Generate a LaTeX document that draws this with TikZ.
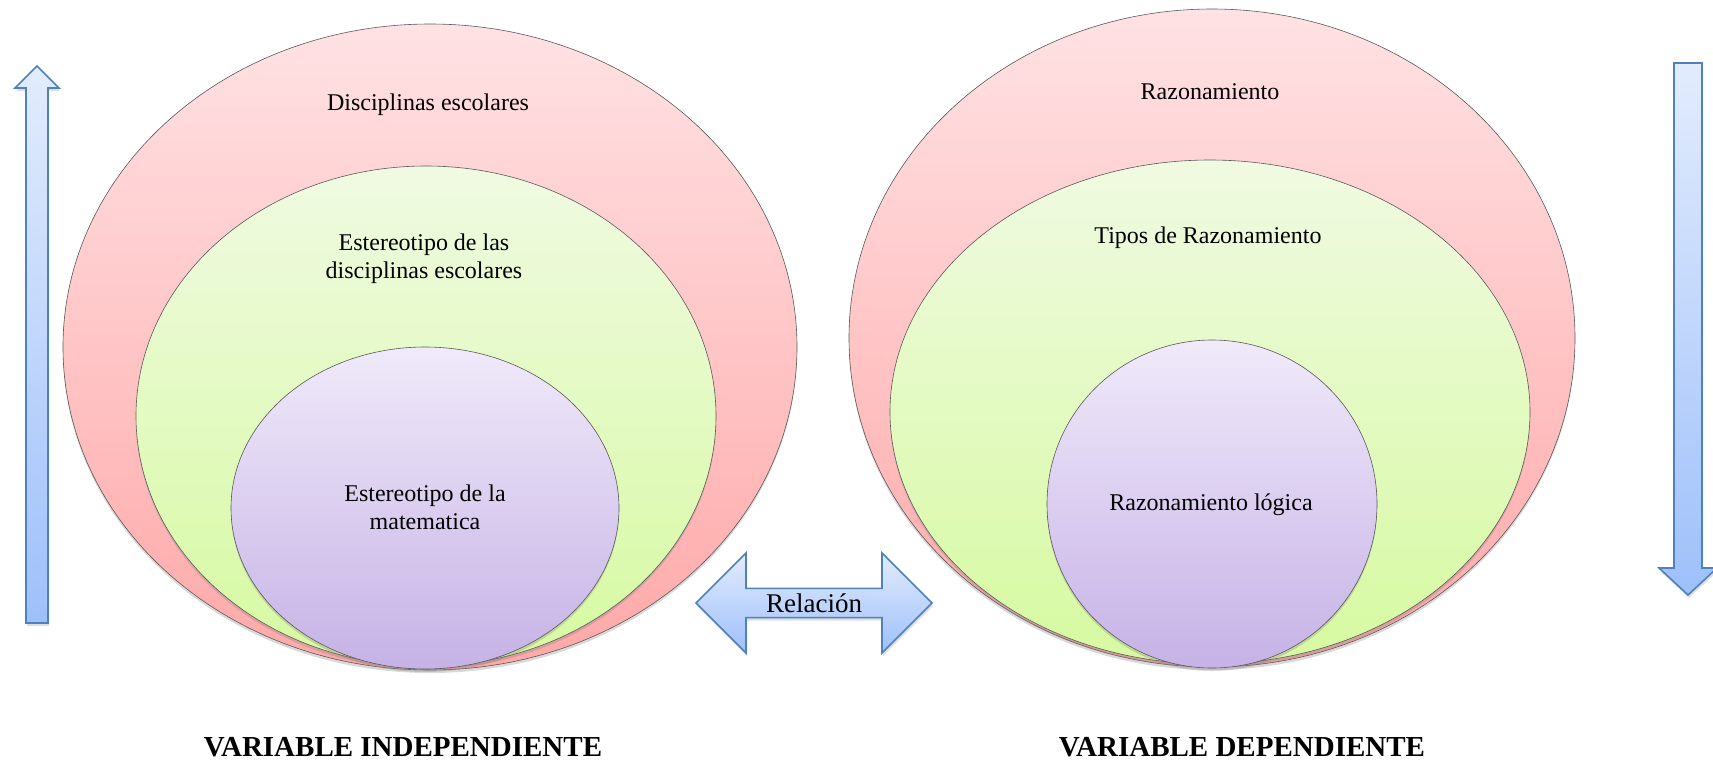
\documentclass[tikz,border=0pt]{standalone}
\usepackage{fontspec}
\setmainfont{Liberation Serif}
\usetikzlibrary{shapes.geometric,shapes.arrows,shadows}
\definecolor{rtop}{RGB}{255,226,228}
\definecolor{rbot}{RGB}{255,168,168}
\definecolor{gtop}{RGB}{240,250,226}
\definecolor{gbot}{RGB}{214,250,160}
\definecolor{ptop}{RGB}{240,234,250}
\definecolor{pbot}{RGB}{198,178,230}
\definecolor{btop}{RGB}{226,236,253}
\definecolor{bbot}{RGB}{158,192,250}
\definecolor{bline}{RGB}{79,129,189}
\tikzset{
  ell/.style={ellipse, draw=black!65, line width=0.6pt, inner sep=0pt,
    drop shadow={shadow xshift=0pt, shadow yshift=-3pt, opacity=0.3}},
  redell/.style={ell, top color=rtop, bottom color=rbot},
  greenell/.style={ell, top color=gtop, bottom color=gbot},
  purpell/.style={ell, top color=ptop, bottom color=pbot},
  blueshape/.style={draw=bline, line width=1.6pt, top color=btop, bottom color=bbot,
    line join=miter, drop shadow={shadow xshift=1pt, shadow yshift=-3pt, opacity=0.25}},
  lbl/.style={font=\fontsize{24}{28}\selectfont, align=center, text=black, inner sep=0pt},
  varlbl/.style={font=\fontsize{29}{32}\selectfont\bfseries, text=black, inner sep=0pt, anchor=base},
}
\begin{document}
\begin{tikzpicture}[x=1pt,y=-1pt]
\useasboundingbox (0,0) rectangle (1713,763);
% left arrow (up)
\draw[blueshape] (26,623) -- (26,88) -- (15,88) -- (37,66) -- (59,88) -- (48,88) -- (48,623) -- cycle;
% right arrow (down)
\draw[blueshape] (1674,63) -- (1702,63) -- (1702,568) -- (1717,568) -- (1688,595) -- (1659,568) -- (1674,568) -- cycle;
% left ellipses
\node[redell, minimum width=734pt, minimum height=646pt] (L1) at (430,347) {};
\node[greenell, minimum width=580pt, minimum height=500pt] (L2) at (426,416) {};
\node[purpell, minimum width=388pt, minimum height=322pt] (L3) at (425,508) {};
% right ellipses
\node[redell, minimum width=726pt, minimum height=658pt] (R1) at (1212,338) {};
\node[greenell, minimum width=640pt, minimum height=504pt] (R2) at (1210,412) {};
\node[purpell, minimum width=330pt, minimum height=328pt] (R3) at (1212,504) {};
% texts
\node[lbl] (t1) at (428,105) {Disciplinas escolares};
\node[lbl] (t2) at (424,259) {Estereotipo de las\\disciplinas escolares};
\node[lbl] (t3) at (425,507) {Estereotipo de la\\matematica};
\node[lbl] (t4) at (1210,92) {Razonamiento};
\node[lbl] (t5) at (1208,238) {Tipos de Razonamiento};
\node[lbl] (t6) at (1211,505) {Razonamiento lógica};
% relation arrow
\node[double arrow, blueshape, minimum height=236pt, minimum width=100pt,
  double arrow head extend=25pt, double arrow head indent=0pt, double arrow tip angle=90,
  inner sep=0pt, font=\fontsize{27}{30}\selectfont] (rel) at (814,603) {Relación};
% bottom labels
\node[varlbl] (vi) at (403,756) {VARIABLE INDEPENDIENTE};
\node[varlbl] (vd) at (1242,756) {VARIABLE DEPENDIENTE};
\end{tikzpicture}
\end{document}
